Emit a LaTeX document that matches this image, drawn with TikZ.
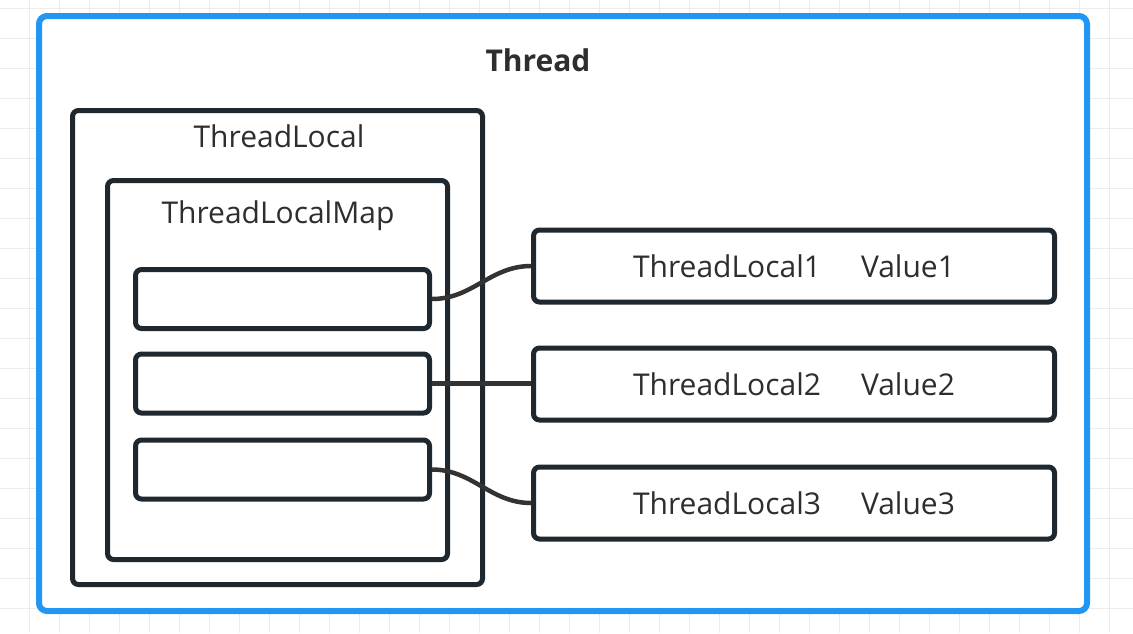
\documentclass[tikz,border=0pt]{standalone}
\usepackage{fontspec}
\setmainfont{Open Sans}
\definecolor{gridgray}{HTML}{ECECEC}
\definecolor{threadblue}{HTML}{2196F3}
\definecolor{boxdark}{HTML}{1F272F}
\definecolor{wiredark}{HTML}{333333}
\definecolor{textdark}{HTML}{2E2E2E}
\tikzset{
  threadbox/.style={draw=threadblue, line width=6pt, rounded corners=8pt, fill=white},
  framebox/.style={draw=boxdark, line width=5pt, rounded corners=6pt},
  slotbox/.style={framebox, minimum width=294pt, minimum height=59pt},
  entrybox/.style={framebox, minimum width=521pt, minimum height=72pt,
    font=\fontsize{30}{34}\selectfont, text=textdark},
  caption/.style={font=\fontsize{30}{34}\selectfont, text=textdark, inner sep=0pt},
  wire/.style={draw=wiredark, line width=4.5pt},
}
\begin{document}
\begin{tikzpicture}[x=1pt,y=-1pt]
  \useasboundingbox (0,0) rectangle (1133,633);
  % background grid
  \foreach \gx in {29,59,...,1133} \draw[gridgray, line width=1pt] (\gx,0) -- (\gx,633);
  \foreach \gy in {8,38,...,633} \draw[gridgray, line width=1pt] (0,\gy) -- (1133,\gy);

  % thread container
  \node[threadbox, minimum width=1048pt, minimum height=595pt] (thread) at (563,313.5) {};
  \node[caption, font=\fontsize{30}{34}\selectfont\bfseries] (threadlbl) at (538,60) {Thread};

  % ThreadLocal and its map
  \node[framebox, minimum width=410pt, minimum height=474pt] (tl) at (277.5,347.5) {};
  \node[caption] (tllbl) at (279,136) {ThreadLocal};
  \node[framebox, minimum width=340pt, minimum height=379pt] (tlm) at (277.5,370) {};
  \node[caption] (tlmlbl) at (278,216) {ThreadLocalMap};

  % map slots
  \node[slotbox] (s1) at (282.5,299) {};
  \node[slotbox] (s2) at (282.5,383.5) {};
  \node[slotbox] (s3) at (282.5,469.5) {};

  % entries
  \node[entrybox] (e1) at (794,266) {ThreadLocal1\hspace{40pt}Value1};
  \node[entrybox] (e2) at (794,384) {ThreadLocal2\hspace{40pt}Value2};
  \node[entrybox] (e3) at (794,503) {ThreadLocal3\hspace{40pt}Value3};

  % slot-to-entry links
  \draw[wire] (s1.east) to[out=0,in=180] (e1.west);
  \draw[wire] (s2.east) -- (e2.west |- s2.east);
  \draw[wire] (s3.east) to[out=0,in=180] (e3.west);
\end{tikzpicture}
\end{document}
